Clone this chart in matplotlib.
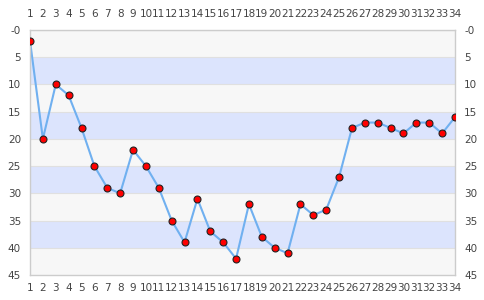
import numpy as np
import matplotlib.pyplot as plt

x = list(range(1, 35))
y = [2, 20, 10, 12, 18, 25, 29, 30, 22, 25, 29, 35, 39, 31, 37, 39, 42,
     32, 38, 40, 41, 32, 34, 33, 27, 18, 17, 17, 18, 19, 17, 17, 19, 16]
yticks = [0, 5, 10, 15, 20, 25, 30, 35, 40, 45]
ylabels = ['-0', '5', '10', '15', '20', '25', '30', '35', '40', '45']

fig = plt.figure(figsize=(4.85, 3.0), dpi=100)
ax = fig.add_axes([30/485, 25/300, 425/485, 245/300])

# alternating bands
for i in range(0, 45, 5):
    c = '#f7f7f7' if (i // 5) % 2 == 0 else '#dce4fd'
    ax.axhspan(i, i + 5, color=c, zorder=0, lw=0)
    ax.axhline(i, color='#e0e0e0', lw=0.8, zorder=0.5)

ax.plot(x, y, color='#70b0f0', lw=1.5, zorder=2)
ax.plot(x, y, 'o', ms=5, mfc='#ff0000', mec='#222222', mew=0.8, zorder=3)

ax.set_xlim(1, 34)
ax.set_ylim(45, 0)
ax.set_xticks(x)
ax.set_yticks(yticks)
ax.set_yticklabels(ylabels)
ax.tick_params(axis='both', length=0, labelsize=7.5, colors='#444444',
               right=True, labelright=True)
ax.tick_params(axis='x', pad=6)
ax.tick_params(axis='y', pad=6.5)

top = ax.secondary_xaxis('top')
top.set_xticks(x)
top.tick_params(length=0, labelsize=7.5, colors='#444444', pad=8)
top.spines['top'].set_visible(False)

for s in ax.spines.values():
    s.set_color('#cccccc')
    s.set_linewidth(1)

fig.savefig('out.png', dpi=100)
